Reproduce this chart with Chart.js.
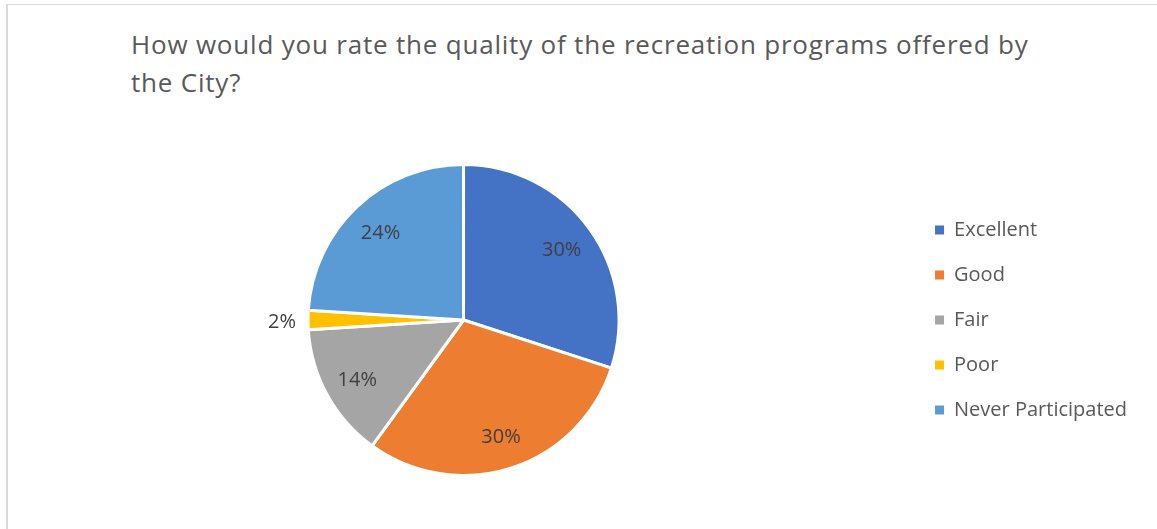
<!DOCTYPE html>
<html>
<head>
<meta charset="utf-8">
<script src="https://cdn.jsdelivr.net/npm/chart.js@4/dist/chart.umd.min.js"></script>
<style>
  html, body { margin: 0; padding: 0; background: #fff; }
  body { width: 1157px; height: 529px; position: relative; overflow: hidden; font-family: 'Open Sans', sans-serif; }
  .frame { position: absolute; left: 6px; top: 4px; width: 1200px; height: 600px; border-left: 2px solid #d9d9d9; border-top: 1px solid #d9d9d9; }
  .title { position: absolute; left: 131px; top: 25px; font-size: 26px; letter-spacing: 0.8px; line-height: 38px; color: #595959; white-space: nowrap; }
  canvas { position: absolute; left: 0; top: 0; }
</style>
</head>
<body>
<div class="frame"></div>
<div class="title">How would you rate the quality of the recreation programs offered by<br>the City?</div>
<canvas id="ratingPie" width="1157" height="529"></canvas>
<script>
// survey answers (percent of respondents)
const categories = ['Excellent', 'Good', 'Fair', 'Poor', 'Never Participated'];
const shares = [30, 30, 14, 2, 24];
const sliceColors = ['#4472C4', '#ED7D31', '#A5A5A5', '#FFC000', '#5B9BD5'];

Chart.defaults.font.family = "'Open Sans', sans-serif";

// percent labels: inside the slice, outside for tiny ones
const pctLabels = {
  id: 'pctLabels',
  afterDatasetsDraw(chart) {
    const ctx = chart.ctx;
    const meta = chart.getDatasetMeta(0);
    ctx.save();
    ctx.font = "20px 'Open Sans', sans-serif";
    ctx.fillStyle = '#404040';
    ctx.textAlign = 'center';
    ctx.textBaseline = 'middle';
    meta.data.forEach((arc, i) => {
      const p = arc.getProps(['x', 'y', 'startAngle', 'endAngle', 'outerRadius'], true);
      const mid = (p.startAngle + p.endAngle) / 2;
      const r = shares[i] < 5 ? p.outerRadius + 26 : p.outerRadius * 0.78;
      ctx.fillText(shares[i] + '%', p.x + Math.cos(mid) * r, p.y + Math.sin(mid) * r + 2);
    });
    ctx.restore();
  }
};

new Chart(document.getElementById('ratingPie').getContext('2d'), {
  type: 'pie',
  data: {
    labels: categories,
    datasets: [{
      data: shares,
      backgroundColor: sliceColors,
      borderColor: '#ffffff',
      borderWidth: 3,
      hoverOffset: 0
    }]
  },
  options: {
    responsive: false,
    animation: false,
    layout: { padding: { top: 163, bottom: 52, left: 17, right: 20 } },
    plugins: {
      title: { display: false },
      tooltip: { enabled: false },
      legend: {
        position: 'right',
        labels: {
          boxWidth: 9, boxHeight: 9, padding: 25, color: '#595959',
          font: { size: 20 },
          generateLabels: chart => Chart.overrides.pie.plugins.legend.labels.generateLabels(chart).map(l => ({ ...l, lineWidth: 0 }))
        }
      }
    }
  },
  plugins: [pctLabels]
});
</script>
</body>
</html>
